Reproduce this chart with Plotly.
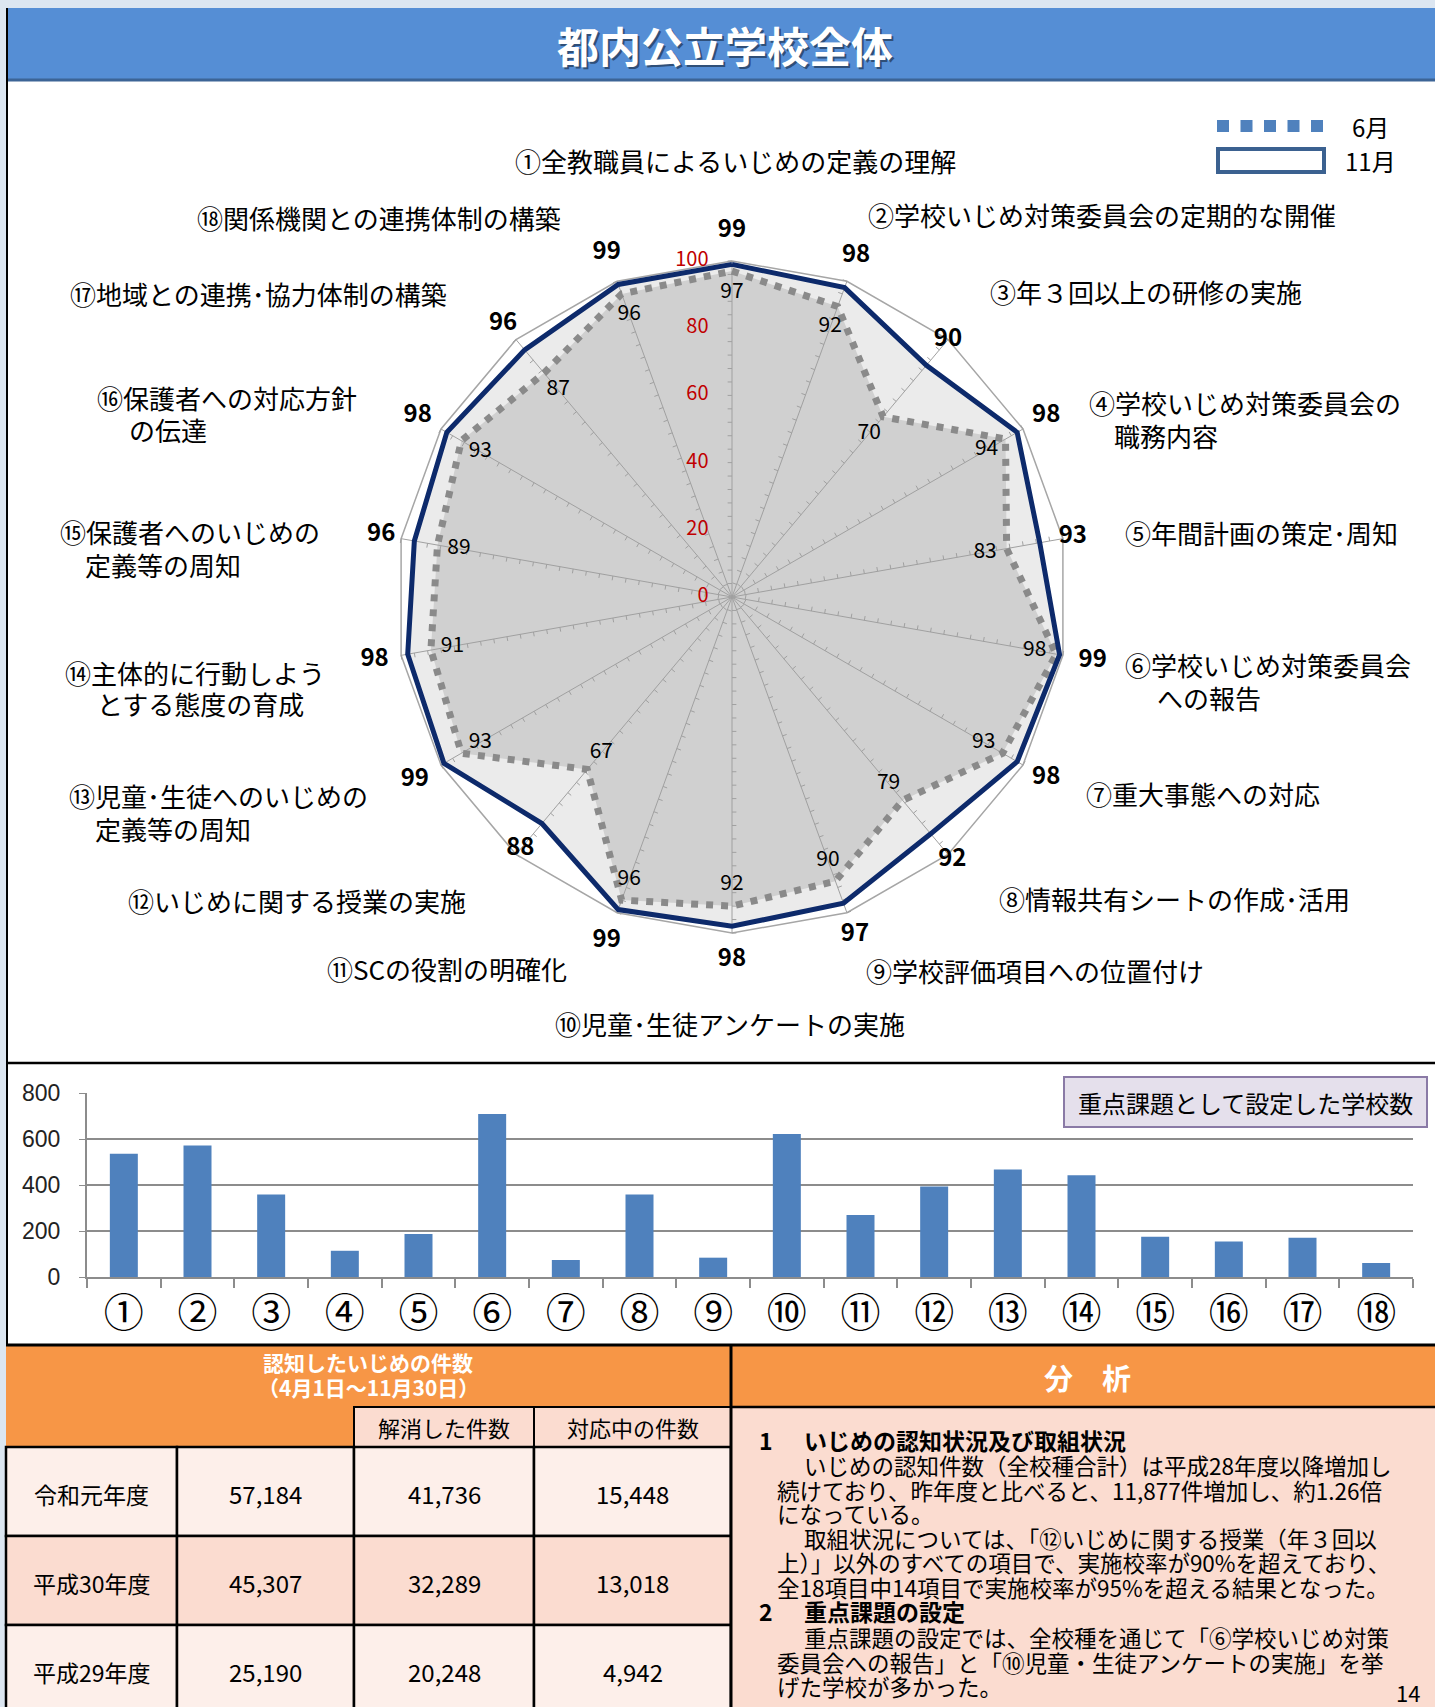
import math
import plotly.graph_objects as go

W, H = 1435, 1707


def X(px):
    return px / W


def Y(py):
    return 1 - py / H


FONT = "Noto Sans CJK JP"

# ---------------- data ----------------
ITEM_LABELS = [
    ["①全教職員によるいじめの定義の理解"],
    ["②学校いじめ対策委員会の定期的な開催"],
    ["③年３回以上の研修の実施"],
    ["④学校いじめ対策委員会の", "職務内容"],
    ["⑤年間計画の策定･周知"],
    ["⑥学校いじめ対策委員会", "への報告"],
    ["⑦重大事態への対応"],
    ["⑧情報共有シートの作成･活用"],
    ["⑨学校評価項目への位置付け"],
    ["⑩児童･生徒アンケートの実施"],
    ["⑪SCの役割の明確化"],
    ["⑫いじめに関する授業の実施"],
    ["⑬児童･生徒へのいじめの", "定義等の周知"],
    ["⑭主体的に行動しよう", "とする態度の育成"],
    ["⑮保護者へのいじめの", "定義等の周知"],
    ["⑯保護者への対応方針", "の伝達"],
    ["⑰地域との連携･協力体制の構築"],
    ["⑱関係機関との連携体制の構築"],
]
JUNE = [97, 92, 70, 94, 83, 98, 93, 79, 90, 92, 96, 67, 93, 91, 89, 93, 87, 96]
NOV = [99, 98, 90, 98, 93, 99, 98, 92, 97, 98, 99, 88, 99, 98, 96, 98, 96, 99]
RADIAL_TICKS = [0, 20, 40, 60, 80, 100]
SERIES_NAMES = ["6月", "11月"]

BAR_LABELS = ["①", "②", "③", "④", "⑤", "⑥", "⑦", "⑧", "⑨",
              "⑩", "⑪", "⑫", "⑬", "⑭", "⑮", "⑯", "⑰", "⑱"]
BAR_VALUES = [536, 572, 359, 114, 187, 709, 74, 359, 84,
              622, 270, 394, 467, 442, 175, 154, 171, 61]
BAR_TITLE = "重点課題として設定した学校数"

TABLE_YEARS = ["令和元年度", "平成30年度", "平成29年度"]
TABLE_TOTAL = ["57,184", "45,307", "25,190"]
TABLE_RESOLVED = ["41,736", "32,289", "20,248"]
TABLE_ONGOING = ["15,448", "13,018", "4,942"]
TABLE_SUBHEAD = ["解消した件数", "対応中の件数"]

ANALYSIS = [
    ("1", "いじめの認知状況及び取組状況"),
    (None, "いじめの認知件数（全校種合計）は平成28年度以降増加し"),
    ("", "続けており、昨年度と比べると、11,877件増加し、約1.26倍"),
    ("", "になっている。"),
    (None, "取組状況については、「⑫いじめに関する授業（年３回以"),
    ("", "上）」以外のすべての項目で、実施校率が90%を超えており、"),
    ("", "全18項目中14項目で実施校率が95%を超える結果となった。"),
    ("2", "重点課題の設定"),
    (None, "重点課題の設定では、全校種を通じて「⑥学校いじめ対策"),
    ("", "委員会への報告」と「⑩児童・生徒アンケートの実施」を挙"),
    ("", "げた学校が多かった。"),
]

# ---------------- layout constants ----------------
CX, CY, R = 732, 597, 336       # centre and pixel radius of the value 100
RMAX = 115                      # radial range head-room for outside labels
RD = R * RMAX / 100
LABEL_POS = [
    [(735, 161, "center")],
    [(866, 215, "left")],
    [(988, 291, "left")],
    [(1087, 403, "left"), (1112, 436, "left")],
    [(1123, 532, "left")],
    [(1123, 665, "left"), (1155, 698, "left")],
    [(1084, 793, "left")],
    [(997, 898, "left")],
    [(864, 970, "left")],
    [(730, 1023, "center")],
    [(325, 968, "left")],
    [(126, 900, "left")],
    [(67, 795, "left"), (93, 828, "left")],
    [(63, 672, "left"), (95, 703, "left")],
    [(58, 531, "left"), (83, 564, "left")],
    [(95, 398, "left"), (127, 430, "left")],
    [(68, 294, "left")],
    [(195, 218, "left")],
]

n = len(NOV)
theta = [i * 360 / n for i in range(n)]


def closed(a):
    return list(a) + [a[0]]


fig = go.Figure()

# outer polygon at max of scale
fig.add_trace(go.Scatterpolar(r=closed([RADIAL_TICKS[-1]] * n), theta=closed(theta),
                              mode="lines", line=dict(color="#a6a6a6", width=1.5),
                              hoverinfo="skip", showlegend=False))
# fills
fig.add_trace(go.Scatterpolar(r=closed(NOV), theta=closed(theta), mode="lines",
                              fill="toself", fillcolor="#ebebeb",
                              line=dict(width=0, color="#ebebeb"),
                              hoverinfo="skip", showlegend=False))
fig.add_trace(go.Scatterpolar(r=closed(JUNE), theta=closed(theta), mode="lines",
                              fill="toself", fillcolor="#d0d0d0",
                              line=dict(width=0, color="#d0d0d0"),
                              hoverinfo="skip", showlegend=False))
# spokes
sr, st = [], []
for t in theta:
    sr += [0, RADIAL_TICKS[-1], None]
    st += [t, t, None]
fig.add_trace(go.Scatterpolar(r=sr, theta=st, mode="lines",
                              line=dict(color="#a0a0a0", width=1),
                              hoverinfo="skip", showlegend=False))
# small tick marks on each spoke (every 4 units)
L = 1.3
tr, tt = [], []
for t in theta:
    for rv in range(4, 101, 4):
        tr += [rv, math.hypot(rv, L), None]
        tt += [t, t - math.degrees(math.atan(L / rv)), None]
fig.add_trace(go.Scatterpolar(r=tr, theta=tt, mode="lines",
                              line=dict(color="#a0a0a0", width=1),
                              hoverinfo="skip", showlegend=False))
# series lines
fig.add_trace(go.Scatterpolar(r=closed(JUNE), theta=closed(theta), mode="lines",
                              name=SERIES_NAMES[0],
                              line=dict(color="#8a8a8a", width=7, dash="7px,8px"),
                              showlegend=False))
fig.add_trace(go.Scatterpolar(r=closed(NOV), theta=closed(theta), mode="lines",
                              name=SERIES_NAMES[1],
                              line=dict(color="#0d2a6b", width=5),
                              showlegend=False))
# value labels
fig.add_trace(go.Scatterpolar(r=[v - 6.5 for v in JUNE], theta=theta, mode="text",
                              text=[str(v) for v in JUNE],
                              textfont=dict(size=21, color="black", family=FONT),
                              cliponaxis=False, hoverinfo="skip", showlegend=False))
fig.add_trace(go.Scatterpolar(r=[v + 10 for v in NOV], theta=theta, mode="text",
                              text=[f"<b>{v}</b>" for v in NOV],
                              textfont=dict(size=24, color="black", family=FONT),
                              cliponaxis=False, hoverinfo="skip", showlegend=False))
# red radial scale labels
fig.add_trace(go.Scatterpolar(r=RADIAL_TICKS, theta=[0] * len(RADIAL_TICKS),
                              mode="markers+text", text=[str(v) for v in RADIAL_TICKS],
                              textposition="middle left",
                              marker=dict(size=36, color="rgba(0,0,0,0)"),
                              textfont=dict(size=20, color="#c00000", family=FONT),
                              cliponaxis=False, hoverinfo="skip", showlegend=False))

# bar chart
fig.add_trace(go.Bar(x=BAR_LABELS, y=BAR_VALUES, marker=dict(color="#4f81bd", line=dict(width=0)),
                     xaxis="x", yaxis="y", showlegend=False))

# ---------------- shapes & annotations ----------------
shapes = []
annotations = []


def rect(x0, y0, x1, y1, fill="rgba(0,0,0,0)", line="rgba(0,0,0,0)", lw=0):
    shapes.append(dict(type="rect", xref="paper", yref="paper",
                       x0=X(x0), x1=X(x1), y0=Y(y1), y1=Y(y0),
                       fillcolor=fill, line=dict(color=line, width=lw)))


def seg(x0, y0, x1, y1, color="black", lw=2, dash="solid"):
    shapes.append(dict(type="line", xref="paper", yref="paper",
                       x0=X(x0), x1=X(x1), y0=Y(y0), y1=Y(y1),
                       line=dict(color=color, width=lw, dash=dash)))


def note(x, y, text, size, color="black", bold=False, anchor="center", family=FONT):
    annotations.append(dict(x=X(x), y=Y(y), xref="paper", yref="paper",
                            text=f"<b>{text}</b>" if bold else text,
                            showarrow=False, xanchor=anchor, yanchor="middle",
                            font=dict(size=size, color=color, family=family)))


# page frame
rect(0, 0, W, 8, fill="#dce6f1")
rect(0, 0, 6, H, fill="#dce6f1")
rect(7, 8, W, 80, fill="#558ed5")
seg(7, 80, W, 80, color="#3c6496", lw=3)
seg(7, 8, 7, H, color="black", lw=2)
note(727, 46, "都内公立学校全体", 42, color="#2f4f78", bold=True)
note(725, 44, "都内公立学校全体", 42, color="white", bold=True)

# radar category labels
for lines, pos in zip(ITEM_LABELS, LABEL_POS):
    for txt, (px, py, anc) in zip(lines, pos):
        note(px, py, txt, 26, anchor=anc)

# radar legend
seg(1217, 126, 1323, 126, color="#4f81bd", lw=12, dash="12px,11.5px")
note(1350, 126, SERIES_NAMES[0], 24, anchor="left")
rect(1218, 149, 1324, 172, fill="white", line="#3b6190", lw=4)
note(1343, 161, SERIES_NAMES[1], 24, anchor="left")

# separators
seg(7, 1063, W, 1063, lw=2.5)

# bar chart legend box
rect(1064, 1077, 1427, 1127, fill="#e5e0ec", line="#8a7aa6", lw=2)
note(1245, 1102, BAR_TITLE, 24)

# ---------------- table ----------------
ORANGE = "#f79646"
PEACH = "#fbdcd0"
LIGHT = "#fdefea"
COLS = [6, 177, 354, 534, 731]
ROWS = [1447, 1536, 1625, 1714]
rect(6, 1345, 731, 1447, fill=ORANGE)
note(368, 1362, "認知したいじめの件数", 21, color="white", bold=True)
note(368, 1387, "（4月1日～11月30日）", 21, color="white", bold=True)
for i, txt in enumerate(TABLE_SUBHEAD):
    rect(COLS[i + 2], 1407, COLS[i + 3], 1447, fill=PEACH, line="black", lw=2)
    note((COLS[i + 2] + COLS[i + 3]) / 2, 1427, txt, 22)
row_fills = [LIGHT, PEACH, LIGHT]
for r, (yr, tot, res, ong) in enumerate(zip(TABLE_YEARS, TABLE_TOTAL, TABLE_RESOLVED, TABLE_ONGOING)):
    y0, y1 = ROWS[r], ROWS[r + 1]
    for c, txt in enumerate([yr, tot, res, ong]):
        rect(COLS[c], y0, COLS[c + 1], y1, fill=row_fills[r], line="black", lw=2.5)
        note((COLS[c] + COLS[c + 1]) / 2, (y0 + y1) / 2 + 2, txt, 23 if c == 0 else 24)

# analysis panel
rect(731, 1345, W, 1407, fill=ORANGE)
rect(731, 1407, W, H, fill=PEACH)
note(1087, 1377, "分　析", 29, color="white", bold=True)
seg(731, 1407, W, 1407, lw=2.5)
seg(6, 1345, W, 1345, lw=3)
seg(731, 1345, 731, H, lw=3)
line_y = [1440, 1465, 1490, 1513, 1538, 1562, 1587, 1611, 1637, 1662, 1686]
for (num, txt), yy in zip(ANALYSIS, line_y):
    if num:
        note(757, yy, num, 23, bold=True, anchor="left")
        note(802, yy, txt, 23, bold=True, anchor="left")
    elif num is None:
        note(802, yy, txt, 22.5, anchor="left")
    else:
        note(775, yy, txt, 22.5, anchor="left")
note(1422, 1692, "14", 22, anchor="right")

fig.update_layout(
    width=W, height=H, autosize=False,
    margin=dict(l=0, r=0, t=0, b=0, pad=0, autoexpand=False),
    paper_bgcolor="white", plot_bgcolor="white",
    showlegend=False,
    polar=dict(
        domain=dict(x=[X(CX - RD), X(CX + RD)], y=[Y(CY + RD), Y(CY - RD)]),
        bgcolor="rgba(0,0,0,0)",
        radialaxis=dict(range=[0, RMAX], showline=False, showgrid=False,
                        showticklabels=False, ticks=""),
        angularaxis=dict(rotation=90, direction="clockwise", showline=False,
                         showgrid=False, showticklabels=False, ticks="",
                         thetaunit="degrees"),
    ),
    xaxis=dict(domain=[X(87), X(1413)], showline=True, linecolor="#8c8c8c", linewidth=2,
               ticks="outside", tickson="boundaries", ticklen=9, tickcolor="#8c8c8c",
               tickwidth=1.5, tickfont=dict(size=40, color="black", family=FONT),
               showgrid=False, fixedrange=True, automargin=False),
    yaxis=dict(domain=[Y(1277), Y(1093)], range=[0, 800], dtick=200,
               showline=True, linecolor="#8c8c8c", linewidth=2,
               gridcolor="#8c8c8c", gridwidth=1.5, zeroline=False,
               ticks="outside", ticklen=6, tickcolor="#8c8c8c",
               ticklabelstandoff=14,
               tickfont=dict(size=23, color="#222", family="Liberation Sans"),
               fixedrange=True, automargin=False),
    bargap=0.62,
    shapes=shapes,
    annotations=annotations,
)

fig.write_html("out.html", config={"displayModeBar": False},
               post_script="document.body.style.margin='0';document.documentElement.style.overflow='hidden';")
